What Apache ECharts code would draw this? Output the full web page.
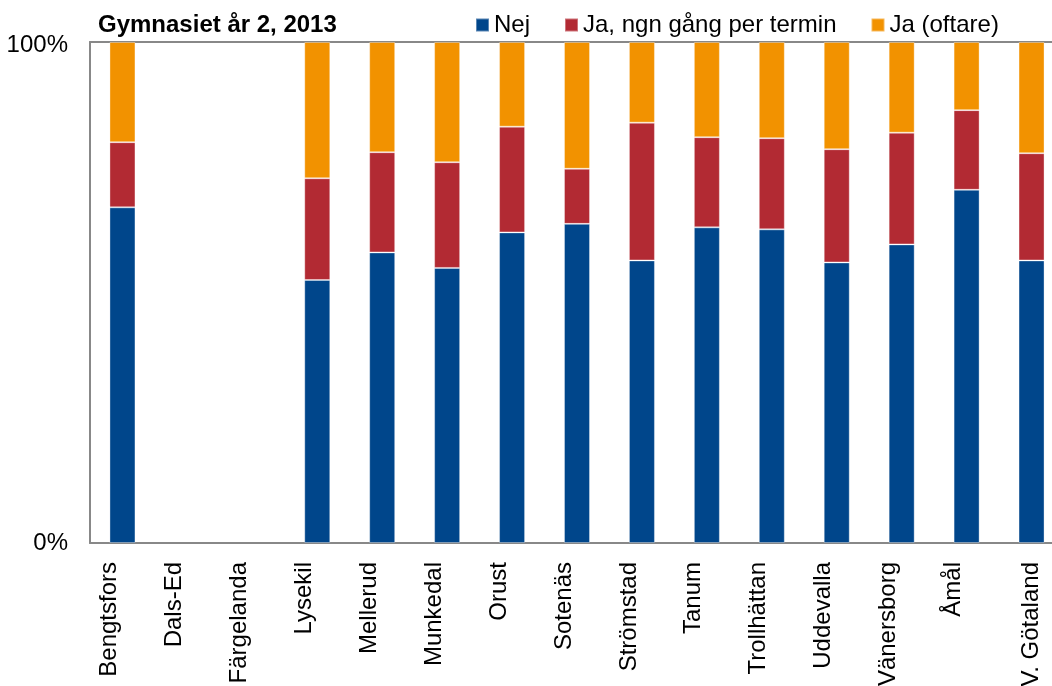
<!DOCTYPE html>
<html>
<head>
<meta charset="utf-8">
<script src="https://cdn.jsdelivr.net/npm/echarts@6/dist/echarts.min.js"></script>
<style>
html,body{margin:0;padding:0;background:#fff;}
#wrap{width:1052px;height:686px;overflow:hidden;position:relative;}
#chart{width:1064px;height:686px;position:absolute;left:0;top:0;}
</style>
</head>
<body>
<div id="wrap"><div id="chart"></div></div>
<script>
const titleText = 'Gymnasiet år 2, 2013';
const categories = ['Bengtsfors','Dals-Ed','Färgelanda','Lysekil','Mellerud','Munkedal','Orust','Sotenäs','Strömstad','Tanum','Trollhättan','Uddevalla','Vänersborg','Åmål','V. Götaland'];
const seriesNames = ['Nej','Ja, ngn gång per termin','Ja (oftare)'];
const nej    = [67.0, null, null, 52.5, 58.0, 54.9, 62.0, 63.7, 56.4, 63.0, 62.6, 56.0, 59.6, 70.5, 56.4];
const jaNgn  = [13.0, null, null, 20.3, 20.0, 21.1, 21.1, 11.0, 27.5, 18.0, 18.2, 22.6, 22.3, 15.9, 21.4];
const jaOft  = [20.0, null, null, 27.2, 22.0, 24.0, 16.9, 25.3, 16.1, 19.0, 19.2, 21.4, 18.1, 13.6, 22.2];
const yTicks = [0, 100];

const FONT = "'Liberation Sans', Arial, sans-serif";
const FS = 24;
const colors = ['#00468B', '#B22A33', '#F29200'];
const chart = echarts.init(document.getElementById('chart'), null, {renderer: 'canvas', width: 1064, height: 686});

function mkSeries(name, data, color) {
  return {
    name: name, type: 'bar', stack: 'total', data: data, barWidth: 26,
    itemStyle: {color: color, borderColor: 'rgba(255,255,255,0.35)', borderWidth: 1},
    emphasis: {disabled: true}
  };
}

chart.setOption({
  animation: false,
  color: colors,
  title: {
    text: titleText, left: 93, top: 8,
    textStyle: {fontFamily: FONT, fontSize: FS, fontWeight: 'bold', color: '#000'}
  },
  legend: {
    data: seriesNames, left: 470, top: 8, itemWidth: 13, itemHeight: 13, itemGap: 34,
    icon: 'rect',
    textStyle: {fontFamily: FONT, fontSize: FS, color: '#000'}
  },
  grid: {left: 90, right: 0, top: 42, bottom: 143, show: false,
         containLabel: false, outerBoundsMode: 'none'},
  xAxis: [{
    type: 'category', data: categories,
    axisLine: {show: true, lineStyle: {color: '#888', width: 2}},
    axisTick: {show: false},
    axisLabel: {
      rotate: 90, margin: 19, interval: 0,
      fontFamily: FONT, fontSize: FS, color: '#000',
      formatter: function (v, i) { return i === categories.length - 1 ? '{b|' + v + '}' : '{a|' + v + '}'; },
      rich: {
        a: {fontFamily: FONT, fontSize: FS, color: '#000', padding: [0, 0, 26, 0]},
        b: {fontFamily: FONT, fontSize: FS, color: '#000', padding: [0, 0, 0, 0]}
      }
    }
  }, {
    type: 'category', data: categories, position: 'top',
    axisLine: {show: true, lineStyle: {color: '#888', width: 2}},
    axisTick: {show: false}, axisLabel: {show: false}
  }],
  yAxis: {
    type: 'value', min: yTicks[0], max: yTicks[yTicks.length - 1], interval: 100,
    axisLine: {show: true, lineStyle: {color: '#888', width: 2}},
    axisTick: {show: false},
    splitLine: {show: false},
    axisLabel: {
      margin: 22, fontFamily: FONT, fontSize: FS, color: '#000',
      formatter: function (v) { return v === 100 ? '{t|' + v + '%}' : '{n|' + v + '%}'; },
      rich: {
        t: {fontFamily: FONT, fontSize: FS, color: '#000', padding: [6, 0, 0, 0]},
        n: {fontFamily: FONT, fontSize: FS, color: '#000'}
      }
    }
  },
  series: [
    mkSeries(seriesNames[0], nej, colors[0]),
    mkSeries(seriesNames[1], jaNgn, colors[1]),
    mkSeries(seriesNames[2], jaOft, colors[2])
  ]
});
</script>
</body>
</html>
